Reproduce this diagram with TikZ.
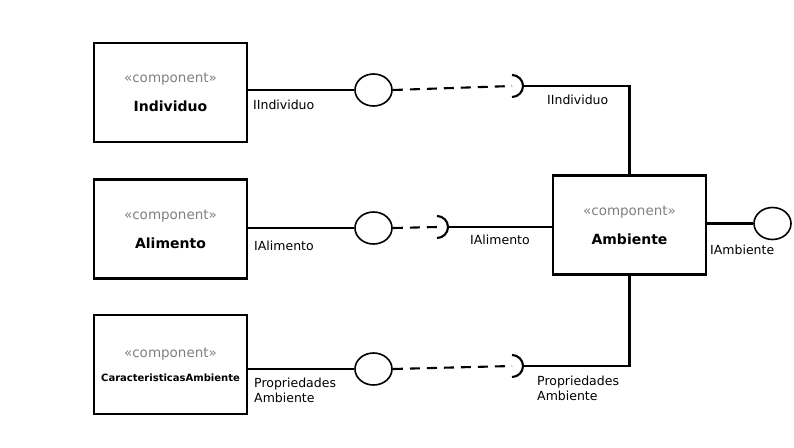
\documentclass[tikz,border=0pt]{standalone}
\usepackage{fontspec}
\setmainfont{DejaVu Sans}
\usetikzlibrary{positioning,shapes.geometric}

\tikzset{
  comp/.style={draw, line width=2.1pt, minimum width=153pt, minimum height=99pt,
    inner sep=0pt, align=center, font=\fontsize{14}{16}\selectfont\bfseries},
  lolli/.style={draw, ellipse, line width=1.6pt, minimum width=37pt,
    minimum height=32pt, inner sep=0pt},
  wire/.style={line width=2.1pt},
  dep/.style={line width=2.1pt, dash pattern=on 10pt off 7pt},
  lbl/.style={inner sep=0pt, anchor=west, align=left,
    font=\fontsize{12.5}{15}\selectfont},
}
\newcommand{\stereo}{{\color{black!50}\mdseries\fontsize{13.5}{16}\selectfont «component»}}

\begin{document}
\begin{tikzpicture}[x=1pt,y=-1pt]
    \useasboundingbox (0,0) rectangle (794,447);

    % Componentes
    \node[comp] (ind) at (170.5,92.5) {\stereo\\[13pt]Individuo};
    \node[comp] (ali) at (170.5,229) {\stereo\\[13pt]Alimento};
    \node[comp] (car) at (170.5,364.5) {\stereo\\[8pt]{\fontsize{10}{12}\selectfont CaracteristicasAmbiente}};
    \node[comp] (amb) at (629.5,225) {\stereo\\[13pt]Ambiente};

    % Interfaces ofrecidas
    \node[lolli] (ind-if) at (373.5,90) {};
    \node[lolli] (ali-if) at (373.5,228) {};
    \node[lolli] (car-if) at (373.5,369) {};
    \node[lolli] (amb-if) at (772.5,223.5) {};

    % Interfaces requeridas
    \coordinate (ind-so) at (512,86);
    \coordinate (ali-so) at (437,227);
    \coordinate (car-so) at (512,366);

    \draw[wire] (ind-if.west -| ind.east) -- (ind-if.west);
    \draw[wire] (ali-if.west -| ali.east) -- (ali-if.west);
    \draw[wire] (car-if.west -| car.east) -- (car-if.west);
    \draw[wire] (amb-if.west -| amb.east) -- (amb-if.west);

    \draw[dep] (ind-if.east) -- (ind-so);
    \draw[dep] (ali-if.east) -- (ali-so);
    \draw[dep] (car-if.east) -- (car-so);

    \foreach \s in {ind-so, ali-so, car-so}
        \draw[wire] ([shift={(0,-11)}]\s) arc[start angle=-90, end angle=90, radius=11];

    \draw[wire] ([xshift=11pt]ind-so) -| (amb.north);
    \draw[wire] ([xshift=11pt]ali-so) -- (ali-so -| amb.west);
    \draw[wire] ([xshift=11pt]car-so) -| (amb.south);

    % Etiquetas
    \node[lbl] (l-ind) at (253,105) {IIndividuo};
    \node[lbl] (r-ind) at (547,100) {IIndividuo};
    \node[lbl] (l-ali) at (254,246) {IAlimento};
    \node[lbl] (r-ali) at (470,240) {IAlimento};
    \node[lbl] (l-car) at (254,390) {Propriedades\\Ambiente};
    \node[lbl] (r-car) at (537,388) {Propriedades\\Ambiente};
    \node[lbl] (l-amb) at (710,250) {IAmbiente};
\end{tikzpicture}
\end{document}
